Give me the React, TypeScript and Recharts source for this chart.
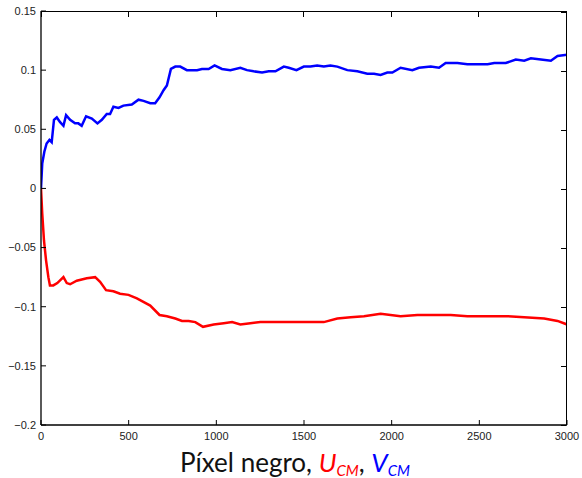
import React from "react";
import { LineChart, Line, XAxis, YAxis } from "recharts";

const blueX = [0, 7, 19, 32, 48, 61, 74, 90, 109, 128, 143, 166, 194, 213, 232, 257, 290, 322, 347, 375, 394, 413, 442, 470, 518, 556, 585, 623, 651, 676, 699, 718, 741, 766, 794, 832, 861, 890, 918, 956, 990, 1032, 1080, 1137, 1175, 1213, 1261, 1299, 1337, 1385, 1413, 1457, 1499, 1537, 1575, 1613, 1651, 1690, 1747, 1804, 1861, 1899, 1937, 1975, 2004, 2051, 2118, 2156, 2223, 2270, 2308, 2375, 2432, 2547, 2585, 2651, 2708, 2756, 2794, 2851, 2908, 2946, 3000];
const blueY = [0, 0.021, 0.031, 0.038, 0.041, 0.039, 0.058, 0.06, 0.056, 0.053, 0.062, 0.058, 0.055, 0.055, 0.053, 0.061, 0.059, 0.055, 0.058, 0.063, 0.063, 0.069, 0.068, 0.07, 0.071, 0.075, 0.074, 0.072, 0.072, 0.077, 0.083, 0.087, 0.101, 0.103, 0.103, 0.1, 0.1, 0.1, 0.101, 0.101, 0.104, 0.101, 0.1, 0.102, 0.1, 0.099, 0.098, 0.099, 0.099, 0.103, 0.102, 0.1, 0.103, 0.103, 0.104, 0.103, 0.104, 0.103, 0.1, 0.099, 0.097, 0.097, 0.096, 0.098, 0.098, 0.102, 0.1, 0.102, 0.103, 0.102, 0.106, 0.106, 0.105, 0.105, 0.106, 0.106, 0.109, 0.108, 0.11, 0.109, 0.108, 0.112, 0.113];

const redX = [0, 7, 17, 29, 42, 51, 70, 93, 128, 147, 166, 204, 261, 309, 337, 371, 413, 451, 499, 547, 623, 676, 718, 766, 804, 842, 880, 924, 985, 1042, 1090, 1137, 1194, 1251, 1347, 1442, 1537, 1613, 1690, 1766, 1842, 1937, 2051, 2147, 2337, 2432, 2527, 2661, 2756, 2870, 2946, 3000];
const redY = [0, -0.021, -0.044, -0.061, -0.075, -0.082, -0.082, -0.08, -0.075, -0.08, -0.081, -0.078, -0.076, -0.075, -0.079, -0.086, -0.087, -0.089, -0.09, -0.093, -0.099, -0.107, -0.108, -0.11, -0.112, -0.112, -0.113, -0.117, -0.115, -0.114, -0.113, -0.115, -0.114, -0.113, -0.113, -0.113, -0.113, -0.113, -0.11, -0.109, -0.108, -0.106, -0.108, -0.107, -0.107, -0.108, -0.108, -0.108, -0.109, -0.11, -0.112, -0.115];

const xTicks = [0, 500, 1000, 1500, 2000, 2500, 3000];
const yTicks = [-0.2, -0.15, -0.1, -0.05, 0, 0.05, 0.1, 0.15];
const xDomain = [0, 3000];
const yDomain = [-0.2, 0.15];

const blueData = blueX.map((x, i) => ({ x, v: blueY[i] }));
const redData = redX.map((x, i) => ({ x, u: redY[i] }));

const fmtY = (v: number) => {
  const s = String(Math.abs(Math.round(v * 100) / 100));
  return v < 0 ? "\u2212" + s : s;
};

const W = 582;
const H = 478;
const M = { top: 11, right: 15, bottom: 0, left: 0 };
const Y_AXIS_W = 41;
const X_AXIS_H = 53;

const tickFont = { fontFamily: "Liberation Sans, Arial, sans-serif", fontSize: 11, fill: "#222" };
const axisLineStyle = { stroke: "#000", strokeWidth: 1.3 };
const tickLineStyle = { stroke: "#000", strokeWidth: 1 };

const XLabel = (props: any) => {
  const vb = props.viewBox || { x: 41, width: 525, y: 425 };
  const cx = vb.x + vb.width / 2 - 9;
  return (
    <text x={cx} y={472} textAnchor="middle" fontFamily="Lato, 'Open Sans', sans-serif" fontSize={26} fill="#111">
      <tspan>Píxel negro, </tspan>
      <tspan fill="#ff0000" fontStyle="italic">U</tspan>
      <tspan fill="#ff0000" fontStyle="italic" fontSize={15} dy={4}>CM</tspan>
      <tspan dy={-4}>, </tspan>
      <tspan fill="#0000ff" fontStyle="italic">V</tspan>
      <tspan fill="#0000ff" fontStyle="italic" fontSize={15} dy={4}>CM</tspan>
    </text>
  );
};

// Frame (top and right sides of the box) with inward ticks, laid over the plot area
const Frame = () => {
  const left = M.left + Y_AXIS_W;
  const top = M.top;
  const width = W - M.left - M.right - Y_AXIS_W;
  const height = H - M.top - M.bottom - X_AXIS_H;
  return (
    <div
      style={{
        position: "absolute",
        left,
        top,
        width,
        height,
        boxSizing: "border-box",
        borderTop: "1.3px solid #000",
        borderRight: "1.3px solid #000",
        pointerEvents: "none",
      }}
    >
      {xTicks.map((t) => (
        <div
          key={"t" + t}
          style={{
            position: "absolute",
            top: 0,
            left: `${((t - xDomain[0]) / (xDomain[1] - xDomain[0])) * 100}%`,
            width: 1,
            height: 5,
            marginLeft: -0.5,
            background: "#000",
          }}
        />
      ))}
      {yTicks.map((t) => (
        <div
          key={"r" + t}
          style={{
            position: "absolute",
            right: 0,
            top: `${((yDomain[1] - t) / (yDomain[1] - yDomain[0])) * 100}%`,
            width: 5,
            height: 1,
            marginTop: -0.5,
            background: "#000",
          }}
        />
      ))}
    </div>
  );
};

export default function App() {
  return (
    <div style={{ position: "absolute", left: 0, top: 0, width: W, height: H, background: "#fff" }}>
      <LineChart width={W} height={H} margin={M}>
        <XAxis
          dataKey="x"
          type="number"
          domain={xDomain}
          ticks={xTicks}
          allowDataOverflow
          tickSize={-5}
          tickMargin={12}
          tick={tickFont}
          axisLine={axisLineStyle}
          tickLine={tickLineStyle}
          height={X_AXIS_H}
          interval={0}
          label={<XLabel />}
        />
        <YAxis
          type="number"
          domain={yDomain}
          ticks={yTicks}
          allowDataOverflow
          tickFormatter={fmtY}
          tickSize={-5}
          tickMargin={10}
          tick={tickFont}
          axisLine={axisLineStyle}
          tickLine={tickLineStyle}
          width={Y_AXIS_W}
          interval={0}
        />
        <Line
          data={redData}
          dataKey="u"
          type="linear"
          stroke="#ff0000"
          strokeWidth={2.5}
          dot={false}
          isAnimationActive={false}
        />
        <Line
          data={blueData}
          dataKey="v"
          type="linear"
          stroke="#0000ff"
          strokeWidth={2.5}
          dot={false}
          isAnimationActive={false}
        />
      </LineChart>
      <Frame />
    </div>
  );
}
